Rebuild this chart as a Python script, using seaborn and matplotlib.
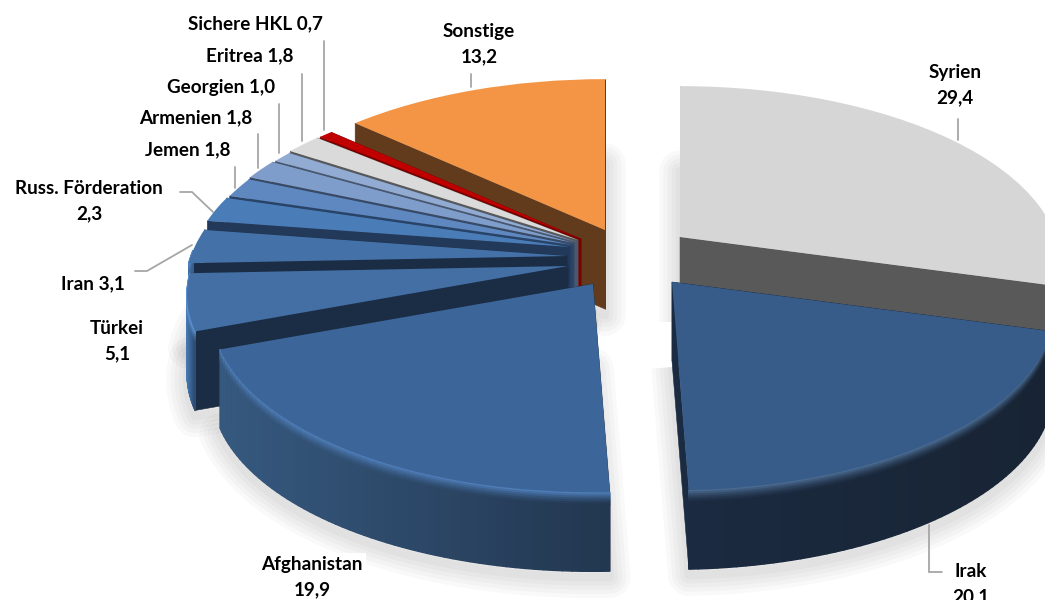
import numpy as np
import matplotlib
matplotlib.use("Agg")
import matplotlib.pyplot as plt
import seaborn as sns
from matplotlib.collections import PolyCollection
from matplotlib.colors import to_rgb
from matplotlib.transforms import Transform

# Daten
laender = ["Syrien", "Irak", "Afghanistan", "Türkei", "Iran", "Russ. Förderation",
           "Jemen", "Armenien", "Georgien", "Eritrea", "Sichere HKL", "Sonstige"]
werte = [29.4, 20.1, 19.9, 5.1, 3.1, 2.3, 1.8, 1.8, 1.0, 1.8, 0.7, 13.2]
trenner = ["\n", "\n", "\n", "\n", " ", "\n", " ", " ", " ", " ", " ", "\n"]

# Farben: Oberseite, Schnittkante, Mantel links, Mantel rechts, Lichtkante
oben = ["#D6D6D6", "#375C8A", "#3C6699", "#436FA4", "#4472A8", "#4A7DB8",
        "#5F88C0", "#7F9DCA", "#92ABD3", "#DADADA", "#C00000", "#F39545"]
kante = ["#595959", "#1A2B42", "#1B2D45", "#1B2D45", "#1B2D45", "#22395A",
         "#2A4468", "#3A4A63", "#4A5870", "#595959", "#7A0000", "#623A1C"]
mantel_l = ["#8A8A8A", "#1B2A40", "#36597F", "#4A7DB8", "#3E6698", "#3E6698",
            "#3E6698", "#3E6698", "#3E6698", "#8A8A8A", "#7A0000", "#B06A30"]
mantel_r = ["#6A6A6A", "#182434", "#22364F", "#2C4A70", "#2C4A70", "#2C4A70",
            "#2C4A70", "#2C4A70", "#2C4A70", "#6A6A6A", "#7A0000", "#8A5020"]
licht = ["#9A9A9A", "#4A6A90", "#4E7DB8", "#5A90D0", "#5585C4", "#5585C4",
         "#6A95CC", "#8AA8D4", "#9AB2D8", "#E4E4E4", "#D02020", "#F7A860"]

# Explosion jedes Segments in Pixeln, Reihenfolge von hinten nach vorne
versatz = [(100, -18), (92, 27), (13, 29), (-12, 11), (-13, 1), (-10, -8),
           (-7, -10), (-6, -12), (-3, -13), (-2, -15), (1, -16), (25, -25)]
reihenfolge = [11, 10, 9, 8, 7, 6, 5, 4, 3, 2, 0, 1]

# Beschriftung (Mitte x, y) und Führungslinien
label_pos = [(955, 85), (971, 584), (312, 577), (117, 341), (93, 284), (89, 201),
             (188, 150), (196, 118), (221, 87), (250, 56), (255, 24), (479, 44)]
linien = [[(958, 119), (958, 140)], [(929, 525), (929, 572), (942, 572)], [], [],
          [(135, 271), (147, 271), (192, 245)], [(180, 192), (192, 192), (213, 212)],
          [(235, 167), (235, 188)], [(258, 134), (258, 168)], [(279, 104), (279, 153)],
          [(302, 74), (302, 141)], [(324, 41), (324, 130)], [(471, 74), (471, 87)]]

CX, CY = 580, 255
RX, RY, K = 376, 175, 0.16
TIEFE = 79
RAND = 12


def projiziere(x, y, off, z=0):
    w = 1 + K * y
    return CX + off[0] + RX * x / w, CY + off[1] - RY * y / w + z


class Kippung(Transform):
    input_dims = 2
    output_dims = 2

    def __init__(self, off):
        super().__init__()
        self.off = off

    def transform_non_affine(self, values):
        xs, ys = projiziere(values[:, 0], values[:, 1], self.off)
        return np.column_stack([xs, ys])


def mische(a, b, t):
    return tuple((1 - t) * np.array(to_rgb(a)) + t * np.array(to_rgb(b)))


sns.set_theme(style="white")
plt.rcParams["font.family"] = ["Lato", "DejaVu Sans"]

fig, ax = plt.subplots(figsize=(10.45, 6), dpi=100)
fig.subplots_adjust(0, 0, 1, 1)

wedges, _ = ax.pie(werte, startangle=90, counterclock=False, radius=1,
                   colors=oben, wedgeprops={"linewidth": 0})
ax.set_aspect("auto")
ax.set_xlim(0, 1045)
ax.set_ylim(600, 0)
ax.axis("off")

for rang, i in enumerate(reihenfolge):
    w = wedges[i]
    off = versatz[i]
    basis = 10 + rang * 5
    th = np.radians(np.linspace(w.theta1, w.theta2, 60))
    bx, by = np.cos(th), np.sin(th)
    px, py = projiziere(bx, by, off)
    sx, sy = projiziere(0.0, 0.0, off)

    # weicher Schatten
    schatten_x = np.r_[sx, px]
    schatten_y = np.r_[sy, py] + TIEFE + 6
    for lw in [30, 24, 18, 12, 6]:
        ax.fill(schatten_x, schatten_y, fill=False, edgecolor="black", alpha=0.022,
                linewidth=lw, joinstyle="round", zorder=1)

    # Schnittkanten
    for kx, ky in [(px[0], py[0]), (px[-1], py[-1])]:
        ax.fill([sx, kx, kx, sx], [sy, ky, ky + TIEFE, sy + TIEFE],
                color=kante[i], linewidth=0.4, zorder=basis)

    # Mantel mit Lichtkante, nur der zum Betrachter zeigende Teil
    quads, farben = [], []
    xmin, xmax = px.min(), px.max()
    stufen = np.r_[np.linspace(0, RAND, 7), TIEFE]
    for j in range(len(px) - 1):
        if by[j] > 0.03 and by[j + 1] > 0.03:
            continue
        t = (px[j] - xmin) / max(xmax - xmin, 1)
        grund = mische(mantel_l[i], mantel_r[i], t)
        for z0, z1 in zip(stufen[:-1], stufen[1:]):
            quads.append([(px[j], py[j] + z0), (px[j + 1], py[j + 1] + z0),
                          (px[j + 1], py[j + 1] + z1), (px[j], py[j] + z1)])
            staerke = max(0.0, 1 - z0 / RAND) ** 1.5
            farben.append(mische(grund, licht[i], staerke))
    ax.add_collection(PolyCollection(quads, facecolors=farben, edgecolors=farben,
                                     linewidths=1.0, zorder=basis + 1))

    # Oberseite
    w.set_transform(Kippung(off) + ax.transData)
    w.set_zorder(basis + 2)

# Beschriftung
for i, name in enumerate(laender):
    wert = f"{werte[i]:.1f}".replace(".", ",")
    box = None
    if name == "Afghanistan":
        box = {"facecolor": "white", "edgecolor": "none", "pad": 2}
    ax.text(*label_pos[i], f"{name}{trenner[i]}{wert}", ha="center", va="center",
            fontsize=13.6, fontweight="bold", color="black", linespacing=1.62,
            bbox=box, zorder=200)
    if linien[i]:
        lx, ly = zip(*linien[i])
        ax.plot(lx, ly, color="#A6A6A6", linewidth=1.3, zorder=150,
                solid_joinstyle="miter")

fig.savefig("out.png", dpi=100)
